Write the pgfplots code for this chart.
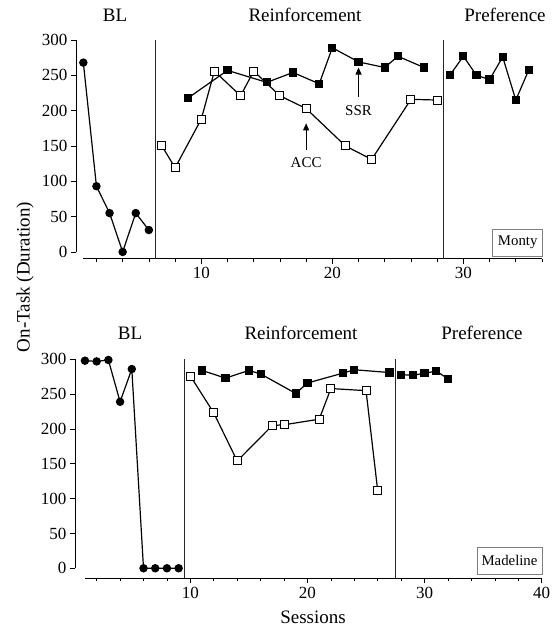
\documentclass[border=0pt]{standalone}
\usepackage{fontspec}
\setmainfont{Liberation Serif}
\usepackage{pgfplots}
\pgfplotsset{compat=1.18}
\usetikzlibrary{arrows.meta}

% Monty
\pgfplotstableread{
s v
1 268
2 93
3 55
4 0
5 55
6 31
}\montybl
\pgfplotstableread{
s v
7 150
8 119
10 188
11 256
13 221
14 256
16 221
18 203
21 150
23 131
26 216
28 215
}\montyacc
\pgfplotstableread{
s v
9 218
12 257
15 240
17 254
19 238
20 289
22 269
24 261
25 277
27 261
}\montyssr
\pgfplotstableread{
s v
29 251
30 277
31 250
32 244
33 276
34 215
35 258
}\montypref

% Madeline
\pgfplotstableread{
s v
1 298
2 297
3 299
4 239
5 286
6 0
7 0
8 0
9 0
}\madbl
\pgfplotstableread{
s v
10 276
12 223
14 154
17 205
18 206
21 214
22 258
25 255
26 111
}\madacc
\pgfplotstableread{
s v
11 284
13 273
15 284
16 279
19 251
20 266
23 280
24 285
27 281
}\madssr
\pgfplotstableread{
s v
28 278
29 277
30 280
31 283
32 272
}\madpref

\pgfplotsset{
  panel/.style={
    scale only axis, height=219bp, anchor=south west,
    axis line style={draw=none},
    tick align=outside, xtick pos=bottom, ytick pos=left,
    ytick={0,50,...,300}, xtick={10,20,30,40},
    minor xtick={2,4,...,40},
    clip=false,
    tick style={black, line width=0.7bp},
    major tick length=5bp, minor tick length=3bp,
    /pgf/number format/assume math mode=true,
    ticklabel style={font=\fontsize{17bp}{20bp}\selectfont},
  },
}
\tikzset{
  dat/.style={black, line width=1.2bp},
  circ/.style={dat, mark=*, mark size=3.6bp},
  opensq/.style={dat, mark=square*, mark size=4bp, mark options={fill=white, line width=1bp}},
  fillsq/.style={dat, mark=square*, mark size=3.5bp, mark options={fill=black}},
  phase/.style={line width=1.2bp, black!85},
}

\begin{document}
\begin{tikzpicture}
\path[use as bounding box] (0bp,0bp) rectangle (558bp,629bp);

\begin{axis}[panel, at={(76bp,370bp)}, width=466bp,
  xmin=0.44, xmax=36, ymin=-10, ymax=300]
  \addplot[circ] table[x=s,y=v] {\montybl};
  \addplot[opensq] table[x=s,y=v] {\montyacc};
  \addplot[fillsq] table[x=s,y=v] {\montyssr};
  \addplot[fillsq] table[x=s,y=v] {\montypref};
  \draw[line width=1bp] (axis cs:1,-10) -- (axis cs:36,-10);
  \draw[line width=1bp] (axis cs:0.44,0) -- (axis cs:0.44,300);
  \draw[phase] (axis cs:6.5,300) -- (axis cs:6.5,-10);
  \draw[phase] (axis cs:28.5,300) -- (axis cs:28.5,-10);
  \draw[line width=0.8bp, -{Triangle[length=7bp,width=6bp]}] (axis cs:18,144) -- (axis cs:18,182);
  \draw[line width=0.8bp, -{Triangle[length=7bp,width=6bp]}] (axis cs:22,220) -- (axis cs:22,261);
  \node[font=\fontsize{15bp}{17bp}\selectfont] at (axis cs:18,127) {ACC};
  \node[font=\fontsize{15bp}{17bp}\selectfont] at (axis cs:22,200) {SSR};
\end{axis}

\begin{axis}[panel, at={(75bp,50.7bp)}, width=466.7bp,
  xmin=0.15, xmax=40, ymin=-14.4, ymax=300]
  \addplot[circ] table[x=s,y=v] {\madbl};
  \addplot[opensq] table[x=s,y=v] {\madacc};
  \addplot[fillsq] table[x=s,y=v] {\madssr};
  \addplot[fillsq] table[x=s,y=v] {\madpref};
  \draw[line width=1bp] (axis cs:1,-14.4) -- (axis cs:40,-14.4);
  \draw[line width=1bp] (axis cs:0.15,0) -- (axis cs:0.15,300);
  \draw[phase] (axis cs:9.5,300) -- (axis cs:9.5,-14.4);
  \draw[phase] (axis cs:27.5,300) -- (axis cs:27.5,-14.4);
\end{axis}

\begin{scope}[every node/.style={font=\fontsize{19bp}{22bp}\selectfont, inner sep=0pt}]
  \node at (115bp,614bp) {BL};
  \node at (305bp,614bp) {Reinforcement};
  \node at (505bp,614bp) {Preference};
  \node at (130bp,296bp) {BL};
  \node at (301bp,296bp) {Reinforcement};
  \node at (482bp,296bp) {Preference};
  \node[rotate=90] at (25bp,352bp) {On-Task (Duration)};
  \node at (313bp,12bp) {Sessions};
\end{scope}
\node[draw=gray, line width=0.8bp, minimum width=50bp, minimum height=27bp, inner sep=0pt,
  font=\fontsize{14.8bp}{17bp}\selectfont] at (517.7bp,386.3bp) {Monty};
\node[draw=gray, line width=0.8bp, minimum width=65bp, minimum height=27bp, inner sep=0pt,
  font=\fontsize{14.8bp}{17bp}\selectfont] at (509.5bp,68.5bp) {Madeline};
\end{tikzpicture}
\end{document}
